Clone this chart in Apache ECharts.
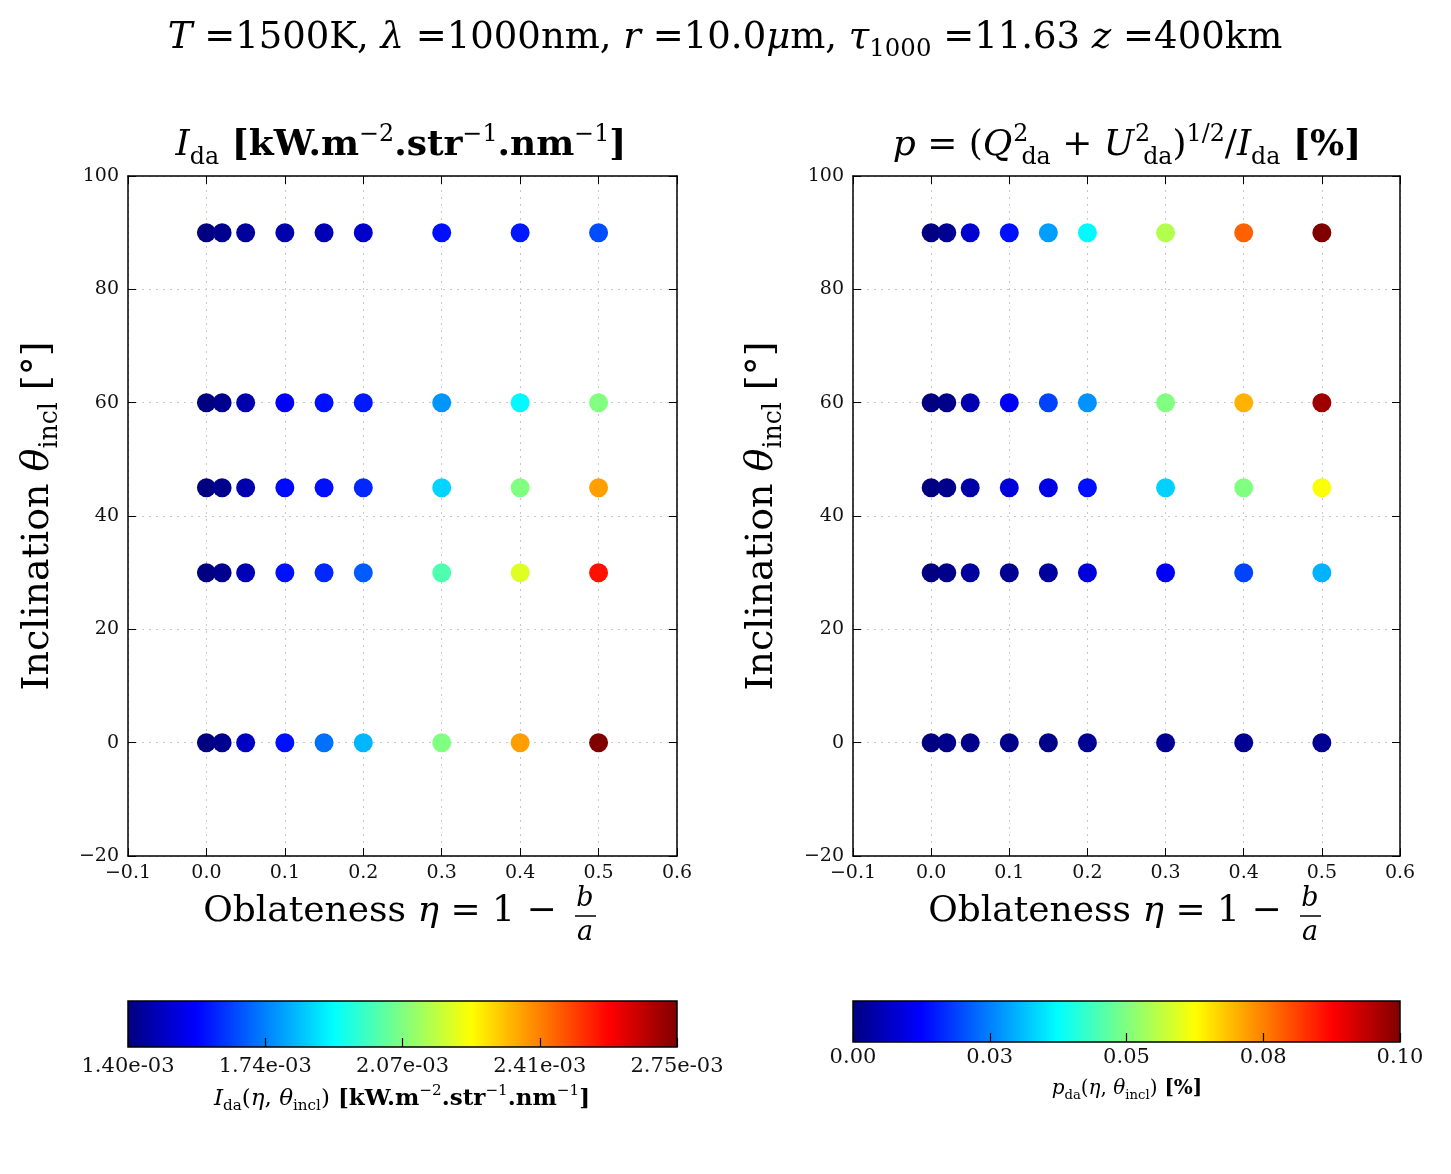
<!DOCTYPE html>
<html><head><meta charset="utf-8">
<script src="https://cdn.jsdelivr.net/npm/echarts@6/dist/echarts.min.js"></script>
<style>html,body{margin:0;padding:0;background:#fff}#c{width:1451px;height:1174px}</style>
</head><body><div id="c"></div>
<script>
// ---------------- data ----------------
const etaValues = [0, 0.02, 0.05, 0.1, 0.15, 0.2, 0.3, 0.4, 0.5];
const inclinationValues = [0, 30, 45, 60, 90];
// I_da [kW.m^-2.str^-1.nm^-1], one array per inclination
const intensityIncl0  = [1.400e-3, 1.420e-3, 1.490e-3, 1.590e-3, 1.717e-3, 1.810e-3, 2.075e-3, 2.372e-3, 2.750e-3];
const intensityIncl30 = [1.400e-3, 1.420e-3, 1.470e-3, 1.590e-3, 1.620e-3, 1.690e-3, 2.010e-3, 2.200e-3, 2.560e-3];
const intensityIncl45 = [1.400e-3, 1.420e-3, 1.460e-3, 1.580e-3, 1.590e-3, 1.620e-3, 1.850e-3, 2.075e-3, 2.370e-3];
const intensityIncl60 = [1.400e-3, 1.420e-3, 1.460e-3, 1.560e-3, 1.590e-3, 1.600e-3, 1.765e-3, 1.900e-3, 2.075e-3];
const intensityIncl90 = [1.400e-3, 1.420e-3, 1.440e-3, 1.460e-3, 1.470e-3, 1.500e-3, 1.590e-3, 1.600e-3, 1.670e-3];
// p [%], one array per inclination
const polIncl0  = [0, 0.001, 0.001, 0.001, 0.001, 0.002, 0.002, 0.002, 0.002];
const polIncl30 = [0, 0.001, 0.003, 0.002, 0.003, 0.009, 0.012, 0.019, 0.030];
const polIncl45 = [0, 0.001, 0.004, 0.009, 0.010, 0.014, 0.033, 0.050, 0.062];
const polIncl60 = [0, 0.001, 0.005, 0.012, 0.019, 0.027, 0.050, 0.070, 0.097];
const polIncl90 = [0, 0.002, 0.008, 0.014, 0.028, 0.037, 0.055, 0.078, 0.100];
const intensityRange = [1.40e-3, 2.75e-3];
const polRange = [0, 0.10];
const intensityCbarTicks = ['1.40e-03', '1.74e-03', '2.07e-03', '2.41e-03', '2.75e-03'];
const polCbarTicks = ['0.00', '0.03', '0.05', '0.08', '0.10'];

// ---------------- helpers ----------------
const intensityRows = [intensityIncl0, intensityIncl30, intensityIncl45, intensityIncl60, intensityIncl90];
const polRows = [polIncl0, polIncl30, polIncl45, polIncl60, polIncl90];
function buildPoints(rows) {
  const out = [];
  rows.forEach((row, i) => row.forEach((v, j) => out.push([etaValues[j], inclinationValues[i], v])));
  return out;
}
function clamp(x) { return Math.max(0, Math.min(1, x)); }
function jet(t) {
  const r = clamp(1.5 - Math.abs(4 * t - 3)), g = clamp(1.5 - Math.abs(4 * t - 2)), b = clamp(1.5 - Math.abs(4 * t - 1));
  const h = v => Math.round(v * 255).toString(16).padStart(2, '0');
  return '#' + h(r) + h(g) + h(b);
}
const N = 64;
const jetColors = [], jetStops = [];
for (let k = 0; k <= N; k++) { jetColors.push(jet(k / N)); jetStops.push({ offset: k / N, color: jet(k / N) }); }

const FF = "'DejaVu Serif', 'Liberation Serif', serif";
function rich(base) {
  const s = base * 0.66;
  return {
    n: { fontSize: base, fontFamily: FF, fill: '#000', lineHeight: base * 1.3 },
    i: { fontSize: base, fontFamily: FF, fontStyle: 'italic', fill: '#000', lineHeight: base * 1.3 },
    b: { fontSize: base, fontFamily: FF, fontWeight: 'bold', fill: '#000', lineHeight: base * 1.3 },
    sub: { fontSize: s, fontFamily: FF, fill: '#000', verticalAlign: 'bottom', lineHeight: s * 1.1 },
    sup: { fontSize: s, fontFamily: FF, fill: '#000', verticalAlign: 'top', lineHeight: s * 1.1 },
    supk: { fontSize: s, fontFamily: FF, fill: '#000', verticalAlign: 'top', lineHeight: s * 1.1, width: 1, padding: [0, 0, 0, Math.round(s * 0.33)] }
  };
}
function txt(x, y, text, base, extra) {
  return Object.assign({ type: 'text', x: x, y: y, silent: true,
    style: { text: text, rich: rich(base), align: 'center', verticalAlign: 'middle', fontFamily: FF, fontSize: base, fill: '#000' } }, extra || {});
}

const G = [
  { left: 128, top: 176, width: 549, height: 680 },
  { left: 853, top: 176, width: 547, height: 680 }
];
const axisLineStyle = { color: '#000', width: 1.5 };
const tickLabel = { color: '#111', fontFamily: FF, fontSize: 19 };
function fmtX(v) { if (Math.abs(v) < 1e-9) return '0.0'; return v.toFixed(1).replace('-', '\u2212'); }
function fmtY(v) { return String(Math.round(v)).replace('-', '\u2212'); }

const xAxes = [], yAxes = [];
[0, 1].forEach(gi => {
  ['bottom', 'top'].forEach(pos => xAxes.push({
    type: 'value', gridIndex: gi, position: pos, min: -0.1, max: 0.6, interval: 0.1,
    axisLine: { show: true, onZero: false, lineStyle: axisLineStyle },
    axisTick: { show: true, inside: true, length: 8, lineStyle: { color: '#000', width: 1 } },
    axisLabel: { show: pos === 'bottom', margin: 8, showMinLabel: true, showMaxLabel: true, formatter: fmtX, ...tickLabel },
    splitLine: { show: pos === 'bottom', lineStyle: { type: [2, 5], color: '#c8c8c8', width: 1 } }
  }));
  ['left', 'right'].forEach(pos => yAxes.push({
    type: 'value', gridIndex: gi, position: pos, min: -20, max: 100, interval: 20,
    axisLine: { show: true, onZero: false, lineStyle: axisLineStyle },
    axisTick: { show: true, inside: true, length: 8, lineStyle: { color: '#000', width: 1 } },
    axisLabel: { show: pos === 'left', margin: 9, showMinLabel: true, showMaxLabel: true, formatter: fmtY, ...tickLabel },
    splitLine: { show: pos === 'left', lineStyle: { type: [2, 5], color: '#c8c8c8', width: 1 } }
  }));
});
// colorbar axes
[[2, intensityCbarTicks, 9], [3, polCbarTicks, 5]].forEach(([gi, ticks, mg]) => {
  xAxes.push({
    type: 'value', gridIndex: gi, position: 'bottom', min: 0, max: ticks.length - 1, interval: 1,
    axisLine: { show: false },
    axisTick: { show: true, inside: true, length: 9, lineStyle: { color: '#000', width: 1.2 } },
    axisLabel: { show: true, margin: mg, showMinLabel: true, showMaxLabel: true, formatter: v => ticks[Math.round(v)], ...tickLabel, fontSize: 21 },
    splitLine: { show: false }
  });
  yAxes.push({ type: 'value', gridIndex: gi, show: false, min: 0, max: 1 });
});

const grad = () => new echarts.graphic.LinearGradient(0, 0, 1, 0, jetStops);

const option = {
  backgroundColor: '#fff',
  animation: false,
  grid: [
    G[0], G[1],
    { left: 128, top: 1001, width: 549, height: 46, show: true, backgroundColor: grad(), borderColor: '#000', borderWidth: 1.5 },
    { left: 853, top: 1001, width: 547, height: 41, show: true, backgroundColor: grad(), borderColor: '#000', borderWidth: 1.5 }
  ],
  xAxis: xAxes,
  yAxis: yAxes,
  visualMap: [
    { type: 'continuous', show: false, seriesIndex: 0, dimension: 2, min: intensityRange[0], max: intensityRange[1], inRange: { color: jetColors } },
    { type: 'continuous', show: false, seriesIndex: 1, dimension: 2, min: polRange[0], max: polRange[1], inRange: { color: jetColors } }
  ],
  series: [
    { type: 'scatter', xAxisIndex: 0, yAxisIndex: 0, symbolSize: 19, data: buildPoints(intensityRows), itemStyle: { opacity: 1 } },
    { type: 'scatter', xAxisIndex: 2, yAxisIndex: 2, symbolSize: 19, data: buildPoints(polRows), itemStyle: { opacity: 1 } }
  ],
  graphic: [
    txt(725, 38, '{i|T}{n| =1500K, }{i|λ}{n| =1000nm, }{i|r}{n| =10.0}{i|μ}{n|m, }{i|τ}{sub|1000}{n| =11.63 }{i|z}{n| =400km}', 37),
    txt(401, 146, '{i|I}{sub|da}{b| [kW.m}{sup|−2}{b|.str}{sup|−1}{b|.nm}{sup|−1}{b|]}', 36),
    txt(1127, 146, '{i|p}{n| = (}{i|Q}{supk|2}{sub|da}{n| + }{i|U}{supk|2}{sub|da}{n|)}{sup|1/2}{n|/}{i|I}{sub|da}{b| [%]}', 36),
    txt(38, 516, '{n|Inclination }{i|θ}{sub|incl}{n| [°]}', 38, { rotation: Math.PI / 2 }),
    txt(762, 516, '{n|Inclination }{i|θ}{sub|incl}{n| [°]}', 38, { rotation: Math.PI / 2 }),
    // x-axis names with fraction b/a
    txt(568, 912, '', 36, { style: { text: '{n|Oblateness }{i|η}{n| = 1 − }', rich: rich(36), align: 'right', verticalAlign: 'middle' } }),
    txt(585, 899, '{i|b}', 27),
    { type: 'line', silent: true, shape: { x1: 575, y1: 916, x2: 596, y2: 916 }, style: { stroke: '#000', lineWidth: 1.5 } },
    txt(585, 933, '{i|a}', 27),
    txt(1293, 912, '', 36, { style: { text: '{n|Oblateness }{i|η}{n| = 1 − }', rich: rich(36), align: 'right', verticalAlign: 'middle' } }),
    txt(1310, 899, '{i|b}', 27),
    { type: 'line', silent: true, shape: { x1: 1300, y1: 916, x2: 1321, y2: 916 }, style: { stroke: '#000', lineWidth: 1.5 } },
    txt(1310, 933, '{i|a}', 27),
    // colorbar labels
    txt(402, 1099, '{i|I}{sub|da}{n|(}{i|η}{n|, }{i|θ}{sub|incl}{n|)}{b| [kW.m}{sup|−2}{b|.str}{sup|−1}{b|.nm}{sup|−1}{b|]}', 23),
    txt(1127, 1089, '{i|p}{sub|da}{n|(}{i|η}{n|, }{i|θ}{sub|incl}{n|)}{b| [%]}', 20)
  ]
};
const chart = echarts.init(document.getElementById('c'), null, { renderer: 'canvas' });
chart.setOption(option);
</script></body></html>
